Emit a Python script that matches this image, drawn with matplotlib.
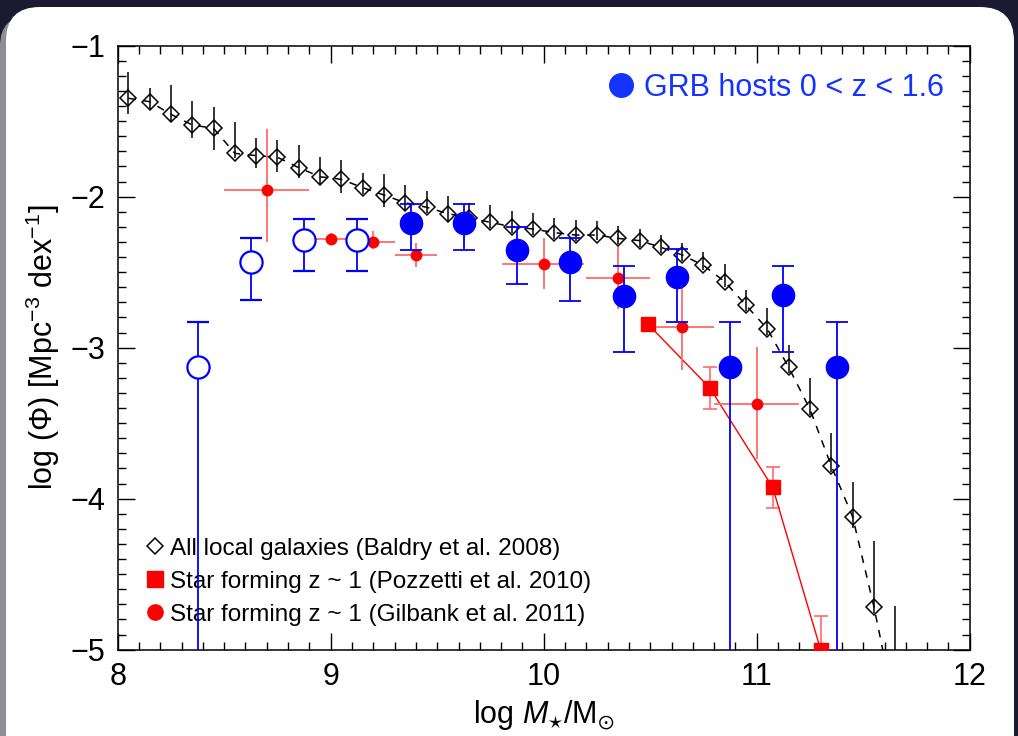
import numpy as np
import matplotlib
matplotlib.use('Agg')
import matplotlib.pyplot as plt
from matplotlib.lines import Line2D
from matplotlib.patches import FancyBboxPatch
from matplotlib.transforms import IdentityTransform

plt.rcParams.update({
    'font.family': ['Liberation Sans', 'DejaVu Sans'],
    'mathtext.fontset': 'custom',
    'mathtext.rm': 'Liberation Sans',
    'mathtext.it': 'Liberation Sans:italic',
    'mathtext.fallback': 'stixsans',
    'axes.linewidth': 1.1,
})

# ── Baldry et al. 2008: all local galaxies ───────────────────────
bal_x = [8.05, 8.15, 8.25, 8.35, 8.45, 8.55, 8.65, 8.75, 8.85, 8.95,
         9.05, 9.15, 9.25, 9.35, 9.45, 9.55, 9.65, 9.75, 9.85, 9.95,
         10.05, 10.15, 10.25, 10.35, 10.45, 10.55, 10.65, 10.75, 10.85, 10.95,
         11.05, 11.15, 11.25, 11.35, 11.45, 11.55, 11.65]
bal_y = [-1.348, -1.371, -1.454, -1.525, -1.547, -1.713, -1.728, -1.739, -1.808, -1.868,
         -1.885, -1.940, -1.989, -2.040, -2.070, -2.112, -2.140, -2.170, -2.199, -2.214,
         -2.238, -2.254, -2.254, -2.276, -2.291, -2.335, -2.386, -2.455, -2.563, -2.720,
         -2.876, -3.130, -3.408, -3.783, -4.119, -4.715, -5.400]
bal_up = [0.177, 0.088, 0.194, 0.159, 0.143, 0.210, 0.115, 0.115, 0.150, 0.130,
          0.128, 0.095, 0.140, 0.117, 0.110, 0.117, 0.100, 0.115, 0.106, 0.108,
          0.100, 0.100, 0.090, 0.080, 0.080, 0.080, 0.080, 0.088, 0.120, 0.100,
          0.137, 0.148, 0.205, 0.220, 0.230, 0.437, 0.690]
bal_dn = [0.104, 0.055, 0.049, 0.088, 0.143, 0.030, 0.084, 0.095, 0.070, 0.050,
          0.093, 0.040, 0.077, 0.050, 0.040, 0.050, 0.040, 0.040, 0.040, 0.040,
          0.040, 0.040, 0.030, 0.040, 0.040, 0.040, 0.040, 0.033, 0.033, 0.040,
          0.040, 0.040, 0.040, 0.040, 0.077, 0.044, 0.040]
# dashed fit curve continues below the last visible point
fit_end_x = [11.58]
fit_end_y = [-5.00]

# ── Pozzetti et al. 2010: star forming z~1 ───────────────────────
poz_x = [10.49, 10.78, 11.075, 11.30]
poz_y = [-2.845, -3.267, -3.925, -5.000]
poz_up = [0.02, 0.137, 0.137, 0.225]
poz_dn = [0.02, 0.140, 0.140, 0.200]

# ── Gilbank et al. 2011: star forming z~1 ────────────────────────
gil_x = [8.70, 9.00, 9.20, 9.40, 10.00, 10.35, 10.65, 11.00]
gil_y = [-1.956, -2.280, -2.298, -2.386, -2.446, -2.541, -2.861, -3.375]
gil_xlo = [0.20, 0.10, 0.10, 0.10, 0.197, 0.15, 0.125, 0.20]
gil_xhi = [0.20, 0.10, 0.10, 0.10, 0.190, 0.15, 0.150, 0.20]
gil_up = [0.402, 0.038, 0.070, 0.077, 0.170, 0.206, 0.254, 0.378]
gil_dn = [0.342, 0.040, 0.050, 0.078, 0.167, 0.205, 0.287, 0.364]

# ── GRB hosts 0 < z < 1.6 ────────────────────────────────────────
grb_open_x = [8.375, 8.625, 8.875, 9.125]
grb_open_y = [-3.130, -2.430, -2.287, -2.287]
grb_open_up = [0.302, 0.154, 0.139, 0.139]
grb_open_dn = [5.0, 0.255, 0.203, 0.203]

grb_x = [9.375, 9.625, 9.875, 10.125, 10.375, 10.625, 10.875, 11.125, 11.375]
grb_y = [-2.176, -2.176, -2.353, -2.434, -2.656, -2.530, -3.126, -2.651, -3.126]
grb_up = [0.128, 0.128, 0.150, 0.163, 0.199, 0.182, 0.298, 0.194, 0.298]
grb_dn = [0.177, 0.177, 0.227, 0.255, 0.370, 0.298, 5.0, 0.375, 5.0]

BLUE = '#0000ff'
RED = '#ff0000'
RED_LIGHT = '#ff6b6b'

fig = plt.figure(figsize=(10.18, 7.36), dpi=100)
fig.patch.set_facecolor('#1b1a30')

# rounded white panel of the screenshot, with a grey left edge
edge = FancyBboxPatch((0, -40), 40, 760, boxstyle='round,pad=0,rounding_size=30',
                      transform=IdentityTransform(), facecolor='#8e8e96',
                      edgecolor='none', zorder=0)
fig.add_artist(edge)
panel = FancyBboxPatch((6, -40), 1008, 769, boxstyle='round,pad=0,rounding_size=34',
                       transform=IdentityTransform(), facecolor='white',
                       edgecolor='none', zorder=0)
fig.add_artist(panel)

ax = fig.add_axes([0.1156, 0.1173, 0.8370, 0.8206])
ax.set_facecolor('white')

# Baldry: dashed fit + open diamonds with asymmetric errors
ax.plot(bal_x + fit_end_x, bal_y + fit_end_y, '--', color='black', lw=1.1,
        dashes=(5, 5), zorder=2)
ax.errorbar(bal_x, bal_y, yerr=[bal_dn, bal_up], fmt='D', ms=8.5, mfc='none',
            mec='black', mew=1.1, ecolor='black', elinewidth=1.1, capsize=0, zorder=3)

# Pozzetti: squares joined by a thin line
ax.errorbar(poz_x, poz_y, yerr=[poz_dn, poz_up], fmt='none', ecolor=RED_LIGHT,
            elinewidth=1.2, capsize=5, capthick=1.2, zorder=4)
ax.plot(poz_x, poz_y, '-', color=RED, lw=1.0, zorder=4)
ax.plot(poz_x, poz_y, 's', color=RED, ms=10, zorder=5)

# Gilbank: small red circles with x and y errors
ax.errorbar(gil_x, gil_y, xerr=[gil_xlo, gil_xhi], yerr=[gil_dn, gil_up], fmt='o',
            ms=7.5, color=RED, ecolor=RED_LIGHT, elinewidth=1.3, capsize=0, zorder=5)

# GRB hosts
ax.errorbar(grb_open_x, grb_open_y, yerr=[grb_open_dn, grb_open_up], fmt='o',
            ms=16, mfc='white', mec=BLUE, mew=1.6, ecolor=BLUE, elinewidth=1.3,
            capsize=8, capthick=1.3, zorder=6)
ax.errorbar(grb_x, grb_y, yerr=[grb_dn, grb_up], fmt='o', ms=16, color=BLUE,
            ecolor=BLUE, elinewidth=1.3, capsize=8, capthick=1.3, zorder=6)

# ── Axes ─────────────────────────────────────────────────────────
ax.set_xlim(8, 12)
ax.set_ylim(-5, -1)
ax.set_xticks([8, 9, 10, 11, 12])
ax.set_yticks([-5, -4, -3, -2, -1])
ax.set_yticklabels(['\u22125', '\u22124', '\u22123', '\u22122', '\u22121'])
ax.set_xticks(np.arange(8, 12.01, 0.1), minor=True)
ax.set_yticks(np.arange(-5, -0.99, 0.1), minor=True)
ax.tick_params(which='both', direction='in', top=True, right=True,
               width=1.0, labelsize=22, color='black')
ax.tick_params(which='major', length=12, pad=9)
ax.tick_params(which='minor', length=6)

ax.set_xlabel(r'log $M_{\star}$/M$_{\odot}$', fontsize=22, labelpad=4)
ax.set_ylabel(r'log ($\Phi$) [Mpc$^{-3}$ dex$^{-1}$]', fontsize=22, labelpad=6)

# ── Legends ──────────────────────────────────────────────────────
handles = [
    Line2D([], [], ls='none', marker='D', ms=8, mfc='none', mec='black', mew=1.1),
    Line2D([], [], ls='none', marker='s', ms=11, color=RED),
    Line2D([], [], ls='none', marker='o', ms=11, color=RED),
]
labels = ['All local galaxies (Baldry et al. 2008)',
          'Star forming z ~ 1 (Pozzetti et al. 2010)',
          'Star forming z ~ 1 (Gilbank et al. 2011)']
leg1 = ax.legend(handles, labels, loc='lower left', bbox_to_anchor=(0.032, 0.04),
                 frameon=False, fontsize=17.5, borderpad=0, handlelength=0.8,
                 handletextpad=0.22, labelspacing=0.45, borderaxespad=0)
ax.add_artist(leg1)

grb_handle = [Line2D([], [], ls='none', marker='o', ms=17, color='#1433ff')]
ax.legend(grb_handle, ['GRB hosts 0 < z < 1.6'], loc='upper right',
          bbox_to_anchor=(0.97, 0.955), frameon=False, fontsize=22, borderpad=0,
          handlelength=0.8, handletextpad=0.35, labelcolor='#1433ff', borderaxespad=0)

fig.savefig('out.png', dpi=100, facecolor=fig.get_facecolor())
